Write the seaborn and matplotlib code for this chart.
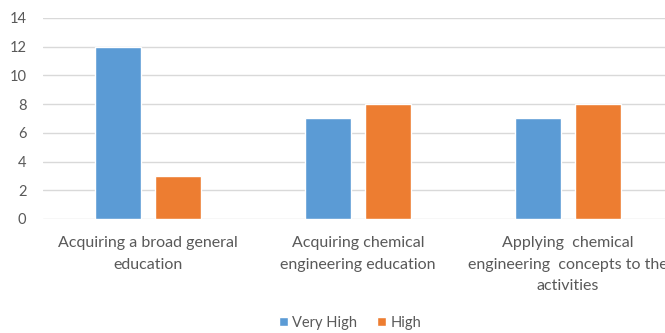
import pandas as pd
import matplotlib.pyplot as plt
import seaborn as sns

categories = ['Acquiring a broad general\neducation',
              'Acquiring chemical\nengineering education',
              'Applying  chemical\nengineering  concepts to the\nactivities']
very_high = [12, 7, 7]
high = [3, 8, 8]
series = ['Very High', 'High']
yticks = [0, 2, 4, 6, 8, 10, 12, 14]

df = pd.DataFrame({
    'Category': categories * 2,
    'Level': [series[0]] * 3 + [series[1]] * 3,
    'Value': very_high + high,
})

sns.set_theme(style='white')
plt.rcParams['font.family'] = ['Lato', 'DejaVu Sans']

fig = plt.figure(figsize=(6.65, 3.33), dpi=100)
ax = fig.add_axes([43 / 665, 114 / 333, 630 / 665, 201 / 333])

sns.barplot(data=df, x='Category', y='Value', hue='Level',
            palette=['#5B9BD5', '#ED7D31'], saturation=1,
            width=0.571, gap=0.234, ax=ax, zorder=3)

ax.set_ylim(0, 14)
ax.set_yticks(yticks)
ax.yaxis.grid(True, color='#D9D9D9', linewidth=1, zorder=0)
ax.set_axisbelow(True)
for s in ax.spines.values():
    s.set_visible(False)
ax.tick_params(axis='both', length=0, colors='#595959')
ax.tick_params(axis='y', pad=12, labelsize=10.5)
ax.tick_params(axis='x', pad=12.5, labelsize=11.5)
ax.set_xticks(range(len(categories)))
ax.set_xticklabels(categories, linespacing=1.65)
ax.set_xlabel('')
ax.set_ylabel('')

leg = ax.legend(loc='center', bbox_to_anchor=(350 / 665, 10 / 333),
                bbox_transform=fig.transFigure, ncol=2, frameon=False,
                fontsize=10.5, handlelength=0.6, handleheight=0.6,
                handletextpad=0.3, columnspacing=1.4)
for t in leg.get_texts():
    t.set_color('#595959')

fig.savefig('out.png', dpi=100)
